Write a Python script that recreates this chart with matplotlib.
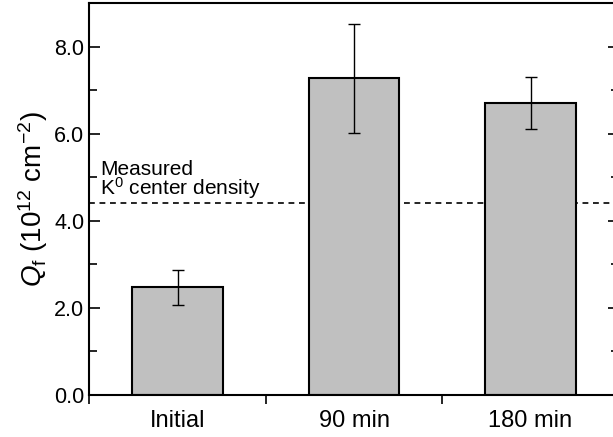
import numpy as np
import matplotlib
matplotlib.use('Agg')
import matplotlib.pyplot as plt
from matplotlib.ticker import MultipleLocator

plt.rcParams['font.family'] = ['Liberation Sans', 'DejaVu Sans']
plt.rcParams['mathtext.fontset'] = 'custom'
plt.rcParams['mathtext.rm'] = 'Liberation Sans'
plt.rcParams['mathtext.it'] = 'Liberation Sans:italic'

### Donnees
categories = ['Initial', '90 min', '180 min']
valeurs = [2.47, 7.27, 6.70]
erreurs = [0.41, 1.25, 0.60]
densite_k0 = 4.4

fig = plt.figure(figsize=(6.13, 4.37), dpi=100)
ax = fig.add_axes([0.1456, 0.0961, 0.8638, 0.8970])

x = np.arange(len(categories))
ax.axhline(densite_k0, color='black', lw=1.2, ls=(0, (3.5, 2.8)), zorder=1)
ax.bar(x, valeurs, width=0.515, color='#c0c0c0', edgecolor='black', lw=1.5, zorder=2)
ax.errorbar(x, valeurs, yerr=erreurs, fmt='none', ecolor='black', elinewidth=1.0,
            capsize=4.2, capthick=1.0, zorder=3)

ax.text(-0.44, 4.59, 'Measured\nK$^0$ center density', fontsize=15, ha='left',
        va='baseline', linespacing=0.82)

ax.set_xlim(-0.5, 2.5)
ax.set_ylim(0, 9)
ax.set_xticks([-0.5, 0.5, 1.5, 2.5])
ax.set_xticklabels([])
ax.set_xticks(x, minor=True)
ax.set_xticklabels(categories, minor=True, fontsize=17)
ax.tick_params(axis='x', which='major', direction='out', length=6.5, width=1.2)
ax.tick_params(axis='x', which='minor', length=0, pad=11)

ax.set_yticks([0, 2, 4, 6, 8])
ax.set_yticklabels(['0.0', '2.0', '4.0', '6.0', '8.0'], fontsize=15.5)
ax.yaxis.set_minor_locator(MultipleLocator(1))
ax.tick_params(axis='y', which='both', direction='in', right=True, width=1.2)
ax.tick_params(axis='y', which='major', length=8)
ax.tick_params(axis='y', which='minor', length=6)

ax.set_ylabel(r'$Q_\mathrm{f}$ (10$^{12}$ cm$^{-2}$)', fontsize=20, labelpad=3)

for s in ax.spines.values():
    s.set_linewidth(1.5)

fig.savefig('out.png', dpi=100)
